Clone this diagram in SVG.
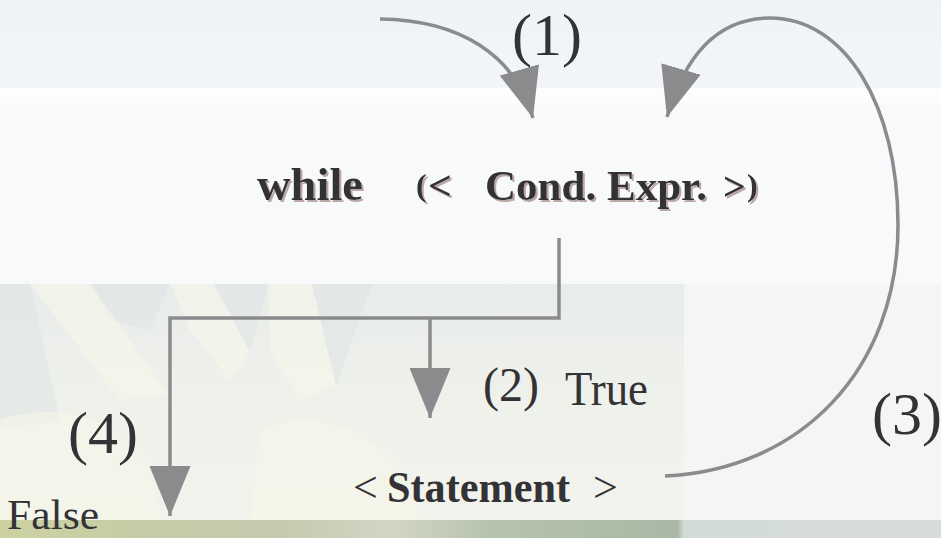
<svg xmlns="http://www.w3.org/2000/svg" width="941" height="538" viewBox="0 0 941 538">
  <defs>
    <linearGradient id="sky" x1="0" y1="0" x2="0" y2="1">
      <stop offset="0" stop-color="#eef3f8"/>
      <stop offset="1" stop-color="#f2f6f9"/>
    </linearGradient>
    <linearGradient id="field" x1="0" y1="0" x2="1" y2="0">
      <stop offset="0" stop-color="#cdd2a2"/>
      <stop offset="0.14" stop-color="#c6cca6"/>
      <stop offset="0.3" stop-color="#c6cab0"/>
      <stop offset="0.42" stop-color="#d2d6c4"/>
      <stop offset="0.52" stop-color="#b6c3ad"/>
      <stop offset="0.72" stop-color="#a9b9a5"/>
      <stop offset="0.727" stop-color="#d3dbd8"/>
      <stop offset="1" stop-color="#d6dcda"/>
    </linearGradient>
    <linearGradient id="flowerBase" x1="0" y1="0" x2="0" y2="1">
      <stop offset="0" stop-color="#e8ecea"/>
      <stop offset="0.5" stop-color="#eff1eb"/>
      <stop offset="1" stop-color="#f2f3ec"/>
    </linearGradient>
    <marker id="head" markerUnits="userSpaceOnUse" viewBox="0 0 50 41" markerWidth="50" markerHeight="41" refX="50" refY="20.5" orient="auto">
      <path d="M0,0 L50,20.5 L0,41 Z" fill="#8b8b8d"/>
    </marker>
    <filter id="shadow" x="-5%" y="-10%" width="110%" height="130%">
      <feDropShadow dx="2" dy="2" stdDeviation="0" flood-color="#bba6a6" flood-opacity="1"/>
    </filter>
  </defs>
  <style>
    .serif { font-family: "Liberation Serif", "Times New Roman", serif; fill: #333336; }
    .bold { font-weight: bold; }
    .conn { fill: none; stroke: #8b8b8d; stroke-width: 3.5; }
    .gap { fill: #dfe4e4; opacity: 0.55; }
    .petal { fill: #f6f6ea; opacity: 0.6; }
  </style>

  <!-- background: sky, white band, faded sunflower, field strip -->
  <g id="background">
    <rect width="941" height="538" fill="#f7f9fb"/>
    <rect x="0" y="0" width="941" height="88" fill="url(#sky)"/>
    <rect x="0" y="88" width="941" height="15" fill="#fcfdfe"/>
    <rect x="0" y="284" width="684" height="236" fill="url(#flowerBase)"/>
    <rect x="684" y="284" width="257" height="236" fill="#f3f6f5"/>
    <!-- darker gaps between petals -->
    <polygon class="gap" points="0,284 30,284 60,420 0,430"/>
    <polygon class="gap" points="90,284 170,284 150,330 110,320"/>
    <polygon class="gap" points="214,284 268,284 250,352"/>
    <polygon class="gap" points="312,284 372,284 336,386"/>
    <!-- light petals -->
    <polygon class="petal" points="30,284 90,284 168,394 120,400"/>
    <polygon class="petal" points="170,284 214,284 250,352 230,380 190,330"/>
    <polygon class="petal" points="268,284 312,284 336,386 300,400 270,350"/>
    <path class="petal" d="M0,420 C60,400 120,420 150,470 L160,520 L0,520 Z"/>
    <path class="petal" d="M260,430 C300,410 360,420 400,470 L420,520 L250,520 Z"/>
    <rect x="0" y="520" width="941" height="18" fill="url(#field)"/>
  </g>

  <!-- connectors -->
  <g id="connectors">
    <path class="conn" d="M380,19 C460,20 515,55 533,118" marker-end="url(#head)"/>
    <path class="conn" d="M559,238 L559,318 L170,318 L170,516" marker-end="url(#head)"/>
    <path class="conn" d="M430,318 L430,418" marker-end="url(#head)"/>
    <path class="conn" stroke-width="3" d="M665,476 C800,470 898,370 898,225 C898,105 845,18 770,18 C725,18 688,45 667,117" marker-end="url(#head)"/>
  </g>

  <!-- loop head -->
  <g id="node-while">
    <text class="serif bold" y="200" filter="url(#shadow)">
      <tspan x="257" font-size="47" textLength="106" lengthAdjust="spacingAndGlyphs">while</tspan>
      <tspan x="416" y="196" font-size="32">(</tspan>
      <tspan x="428" y="200" font-size="42">&lt;</tspan>
      <tspan x="485" font-size="42" textLength="222" lengthAdjust="spacingAndGlyphs">Cond. Expr.</tspan>
      <tspan x="723" font-size="40">&gt;</tspan>
      <tspan x="747" y="196" font-size="32">)</tspan>
    </text>
  </g>

  <!-- loop body -->
  <g id="node-statement">
    <text class="serif" y="502" font-size="44">
      <tspan x="353">&lt;</tspan>
      <tspan x="387" font-weight="bold" textLength="183" lengthAdjust="spacingAndGlyphs">Statement</tspan>
      <tspan x="593">&gt;</tspan>
    </text>
  </g>

  <!-- step labels -->
  <g id="labels">
    <text class="serif" x="512" y="55" font-size="60" textLength="70" lengthAdjust="spacingAndGlyphs">(1)</text>
    <text class="serif" x="483" y="401" font-size="48">(2)</text>
    <text class="serif" x="565" y="405" font-size="48" textLength="83" lengthAdjust="spacingAndGlyphs">True</text>
    <text class="serif" x="872" y="434" font-size="60">(3)</text>
    <text class="serif" x="68" y="453" font-size="60">(4)</text>
    <text class="serif" x="7" y="529" font-size="43" textLength="92" lengthAdjust="spacingAndGlyphs">False</text>
  </g>
</svg>
